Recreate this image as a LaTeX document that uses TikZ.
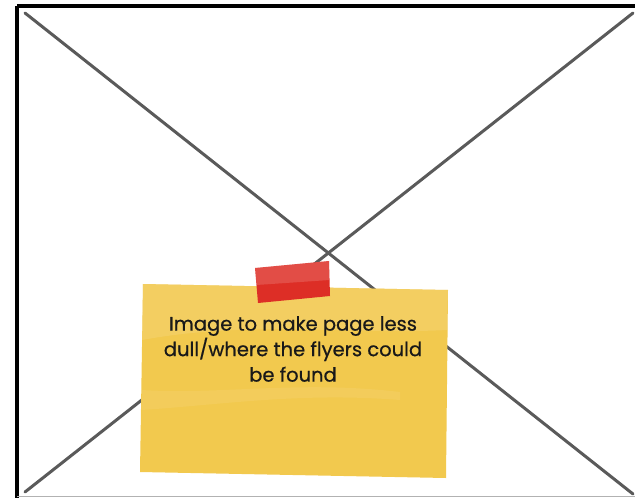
\documentclass[tikz,border=0pt]{standalone}
\usepackage{fontspec}
\setmainfont{Poppins}[FakeBold=0.6]
\definecolor{noteyellow}{HTML}{F2C94E}
\definecolor{notelight}{HTML}{F5D474}
\definecolor{tapered}{HTML}{DD2E26}
\definecolor{crossgray}{HTML}{5A5A5A}
\tikzset{
  crossline/.style={draw=crossgray,line width=3pt,line cap=round},
  framebox/.style={draw=black,line width=3.5pt},
  notetext/.style={align=center,font=\fontsize{19.5}{25.5}\selectfont,text=black!90,inner sep=0pt}
}
\begin{document}
\begin{tikzpicture}[x=1pt,y=-1pt]
\useasboundingbox (0,0) rectangle (635,498);
\fill[white] (0,0) rectangle (635,498);
% frame
\draw[framebox] (17,6) -- (640,6);
\draw[framebox] (17,6) -- (17,500);
\draw[gray!60,line width=1pt] (17,496.5) -- (640,496.5);
% cross
\coordinate (tl) at (25,13);
\coordinate (br) at (633,494);
\coordinate (bl) at (25,492);
\coordinate (tr) at (633,13);
\draw[crossline] (tl) -- (br);
\draw[crossline] (bl) -- (tr);
% sticky note
\fill[noteyellow] (143,284) -- (448,290) -- (446,478) -- (140,472) -- cycle;
\fill[notelight,opacity=0.5] (143,284) -- (448,290) -- (447,330) .. controls (350,335) and (250,320) .. (142,340) -- cycle;
\fill[notelight,opacity=0.35] (142,390) .. controls (220,395) and (300,380) .. (400,392) -- (400,400) .. controls (300,392) and (220,405) .. (141,410) -- cycle;
% tape
\fill[tapered] (255,268) -- (329,261) -- (330,296) -- (258,303) -- cycle;
\fill[white,opacity=0.15] (255,268) -- (329,261) -- (329.5,280) -- (256.5,285) -- cycle;
\node[notetext] (txt) at (293,349) {Image to make page less\\dull/where the flyers could\\be found};
\end{tikzpicture}
\end{document}
